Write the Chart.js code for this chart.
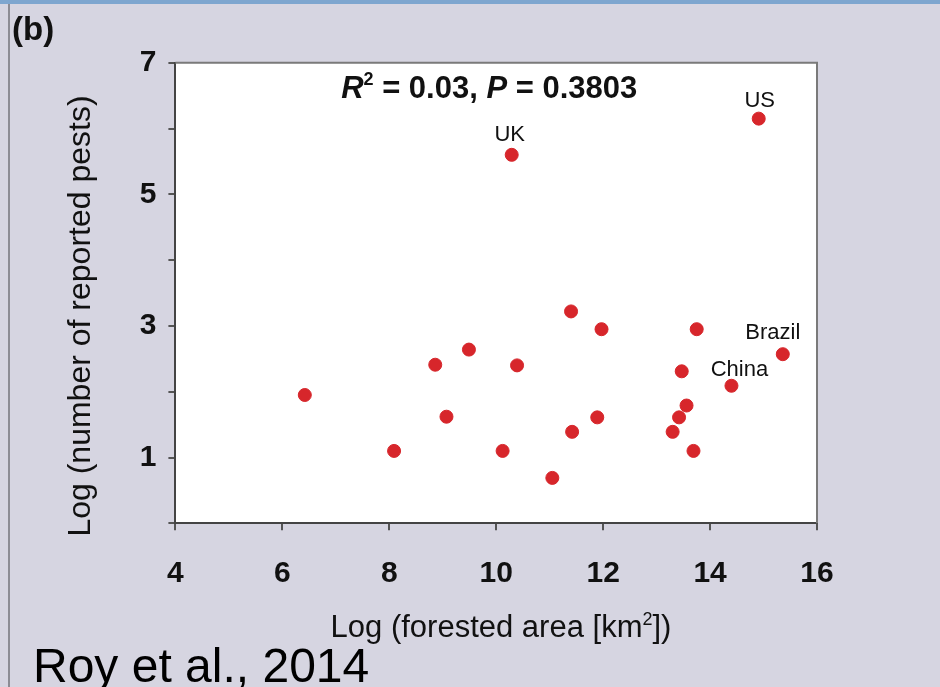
<!DOCTYPE html>
<html>
<head>
<meta charset="utf-8">
<script src="https://cdn.jsdelivr.net/npm/chart.js@4.4.1/dist/chart.umd.min.js"></script>
<style>
  html, body { margin: 0; padding: 0; }
  body { width: 940px; height: 687px; background: #d6d5e1; position: relative; overflow: hidden; }
  #topband { position: absolute; left: 0; top: 0; width: 940px; height: 4px; background: #7ea6cf; }
  #leftline { position: absolute; left: 8px; top: 4px; width: 2px; height: 683px; background: #8c8c94; }
  #wrap { position: absolute; left: 0; top: 0; width: 940px; height: 687px; }
</style>
</head>
<body>
<div id="topband"></div>
<div id="leftline"></div>
<div id="wrap"><canvas id="chart"></canvas></div>
<script>
// log forested area (km2) per country
const forestArea = [6.42, 8.09, 8.86, 9.07, 9.49, 10.12, 10.29, 10.39, 11.05, 11.40, 11.42,
  11.89, 11.97, 13.30, 13.42, 13.47, 13.56, 13.69, 13.75, 14.40, 14.91, 15.36];
// log number of reported pests
const pests = [1.95, 1.10, 2.41, 1.62, 2.64, 1.10, 5.60, 2.40, 0.69, 3.22, 1.39,
  1.61, 2.95, 1.39, 1.61, 2.31, 1.79, 1.10, 2.95, 2.09, 6.15, 2.57];
// only a few points are named on the figure
const countries = ["", "", "", "", "", "", "UK", "", "", "", "",
  "", "", "", "", "", "", "", "", "China", "US", "Brazil"];
const xTicks = [4, 6, 8, 10, 12, 14, 16];
const yTicks = [1, 3, 5, 7];

const statsText = { r2: "0.03", p: "0.3803" };

const FONT = "'Liberation Sans', Arial, Helvetica, sans-serif";

// offsets of the country names from their dot
const labelOffset = { UK: [-2, -20], US: [1, -18], China: [8, -16], Brazil: [-10, -21] };

const extras = {
  id: "extras",
  beforeDraw(chart) {
    const { ctx, chartArea: a } = chart;
    ctx.save();
    ctx.fillStyle = "#ffffff";
    ctx.fillRect(a.left, a.top, a.right - a.left, a.bottom - a.top);
    ctx.restore();
  },
  afterDraw(chart) {
    const { ctx, chartArea: a, scales } = chart;
    ctx.save();
    // top and right frame
    ctx.strokeStyle = "#7a7a7a";
    ctx.lineWidth = 2;
    ctx.beginPath();
    ctx.moveTo(a.left, a.top);
    ctx.lineTo(a.right, a.top);
    ctx.lineTo(a.right, a.bottom);
    ctx.stroke();

    ctx.fillStyle = "#111";
    // country names
    ctx.font = "22px " + FONT;
    ctx.textAlign = "center";
    ctx.textBaseline = "middle";
    countries.forEach((name, i) => {
      if (!name) return;
      const off = labelOffset[name];
      ctx.fillText(name, scales.x.getPixelForValue(forestArea[i]) + off[0],
        scales.y.getPixelForValue(pests[i]) + off[1]);
    });

    // R2 / P annotation
    const cx = (a.left + a.right) / 2 - 7;
    const by = 98;
    const parts = [
      ["italic bold 31px ", "R", 0],
      ["bold 18px ", "2", -13],
      ["bold 31px ", " = " + statsText.r2 + ", ", 0],
      ["italic bold 31px ", "P", 0],
      ["bold 31px ", " = " + statsText.p, 0]
    ];
    ctx.textAlign = "left";
    ctx.textBaseline = "alphabetic";
    let w = 0;
    parts.forEach(p => { ctx.font = p[0] + FONT; w += ctx.measureText(p[1]).width; });
    let x = cx - w / 2;
    parts.forEach(p => {
      ctx.font = p[0] + FONT;
      ctx.fillText(p[1], x, by + p[2]);
      x += ctx.measureText(p[1]).width;
    });

    // x axis title with superscript
    const xt = [["31px ", "Log (forested area [km", 0], ["18px ", "2", -12], ["31px ", "])", 0]];
    w = 0;
    xt.forEach(p => { ctx.font = p[0] + FONT; w += ctx.measureText(p[1]).width; });
    x = 501 - w / 2;
    xt.forEach(p => {
      ctx.font = p[0] + FONT;
      ctx.fillText(p[1], x, 637 + p[2]);
      x += ctx.measureText(p[1]).width;
    });

    // y axis title
    ctx.save();
    ctx.translate(90, 316);
    ctx.rotate(-Math.PI / 2);
    ctx.font = "32px " + FONT;
    ctx.textAlign = "center";
    ctx.fillText("Log (number of reported pests)", 0, 0);
    ctx.restore();

    // panel letter and citation
    ctx.font = "bold 33px " + FONT;
    ctx.fillText("(b)", 12, 40);
    ctx.font = "48px " + FONT;
    ctx.fillStyle = "#000";
    ctx.fillText("Roy et al., 2014", 33, 682);
    ctx.restore();
  }
};

new Chart(document.getElementById("chart"), {
  type: "scatter",
  data: {
    datasets: [{
      data: forestArea.map((v, i) => ({ x: v, y: pests[i] })),
      backgroundColor: "#d7262b",
      borderColor: "#d7262b",
      pointRadius: 6.5,
      pointHoverRadius: 6.5
    }]
  },
  options: {
    responsive: true,
    maintainAspectRatio: false,
    animation: false,
    events: [],
    layout: { padding: { left: 0, right: 123, top: 62.7, bottom: 0 } },
    plugins: { legend: { display: false }, tooltip: { enabled: false } },
    scales: {
      x: {
        type: "linear",
        min: xTicks[0],
        max: xTicks[xTicks.length - 1],
        afterFit: s => { s.height = 163.7; },
        afterBuildTicks: s => { s.ticks = xTicks.map(v => ({ value: v })); },
        border: { color: "#444", width: 2 },
        grid: { drawOnChartArea: false, drawTicks: true, tickLength: 7, color: "#555", lineWidth: 2 },
        ticks: { color: "#111", padding: 25, font: { family: FONT, size: 30, weight: "bold" } }
      },
      y: {
        type: "linear",
        min: 0,
        max: 7,
        afterFit: s => { s.width = 175.4; },
        afterBuildTicks: s => { s.ticks = [0, 1, 2, 3, 4, 5, 6, 7].map(v => ({ value: v })); },
        border: { color: "#444", width: 2 },
        grid: { drawOnChartArea: false, drawTicks: true, tickLength: 7, color: "#555", lineWidth: 2 },
        ticks: {
          color: "#111", padding: 12, font: { family: FONT, size: 30, weight: "bold" },
          callback: v => yTicks.includes(v) ? String(v) : ""
        }
      }
    }
  },
  plugins: [extras]
});
</script>
</body>
</html>
